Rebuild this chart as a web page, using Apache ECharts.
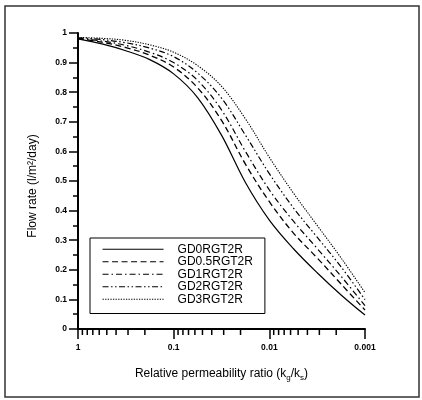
<!DOCTYPE html>
<html><head><meta charset="utf-8">
<script src="https://cdn.jsdelivr.net/npm/echarts@6/dist/echarts.min.js"></script>
<style>html,body{margin:0;padding:0;background:#fff}#c{width:422px;height:400px}</style>
</head><body><div id="c"></div>
<script>
const xValues = [1, 0.5623, 0.3162, 0.1778, 0.1, 0.05623, 0.03162, 0.01778, 0.01, 0.005623, 0.003162, 0.001778, 0.001];
const gd0   = [0.980, 0.963, 0.940, 0.910, 0.862, 0.782, 0.655, 0.495, 0.368, 0.272, 0.190, 0.115, 0.047];
const gd05  = [0.981, 0.969, 0.951, 0.925, 0.885, 0.815, 0.705, 0.557, 0.430, 0.325, 0.240, 0.152, 0.064];
const gd1   = [0.982, 0.973, 0.958, 0.935, 0.900, 0.840, 0.740, 0.600, 0.470, 0.365, 0.272, 0.178, 0.079];
const gd2   = [0.984, 0.978, 0.967, 0.949, 0.920, 0.865, 0.780, 0.655, 0.525, 0.410, 0.310, 0.210, 0.099];
const gd3   = [0.985, 0.982, 0.975, 0.960, 0.935, 0.890, 0.820, 0.710, 0.580, 0.460, 0.350, 0.240, 0.123];
const seriesNames = ['GD0RGT2R', 'GD0.5RGT2R', 'GD1RGT2R', 'GD2RGT2R', 'GD3RGT2R'];
const xTickValues = [1, 0.1, 0.01, 0.001];
const xTickLabels = ['1', '0.1', '0.01', '0.001'];
const xMinorTickValues = [0.9,0.8,0.7,0.6,0.5,0.4,0.3,0.2, 0.09,0.08,0.07,0.06,0.05,0.04,0.03,0.02, 0.009,0.008,0.007,0.006,0.005,0.004,0.003,0.002];

const FONT = '"Liberation Sans", Arial, sans-serif';
const seriesData = [gd0, gd05, gd1, gd2, gd3];
const dashes = ['solid', [6, 3.5], [6, 3, 1.5, 3], [6, 2.5, 1.5, 2.5, 1.5, 2.5], [1.3, 1.3]];
const widths = [1.2, 1.3, 1.2, 1.2, 1.1];

const chart = echarts.init(document.getElementById('c'), null, {renderer: 'canvas'});
const lineSeries = seriesNames.map((n, i) => ({
  name: n, type: 'line', symbol: 'none', smooth: 0.35,
  data: xValues.map((x, j) => [x, seriesData[i][j]]),
  lineStyle: {color: '#000', width: widths[i], type: dashes[i]},
  itemStyle: {color: '#000'}
}));
lineSeries.push({
  type: 'custom', silent: true, clip: false,
  data: xMinorTickValues.map(v => [v, 0]),
  renderItem: (params, api) => {
    const p = api.coord([api.value(0), 0]);
    return {type: 'line', shape: {x1: p[0], y1: p[1], x2: p[0], y2: p[1] + 6},
            style: {stroke: '#000', lineWidth: 1.5}};
  }
});

chart.setOption({
  animation: false,
  backgroundColor: '#fff',
  graphic: [{type: 'rect', shape: {x: 5, y: 6, width: 414, height: 391},
             style: {fill: 'none', stroke: '#333', lineWidth: 1.5}}],
  grid: {left: 78, right: 57, top: 33, bottom: 71},
  legend: {
    data: seriesNames, orient: 'vertical', left: 90, top: 238,
    itemWidth: 61, itemHeight: 8, itemGap: 0,
    itemStyle: {opacity: 0},
    lineStyle: {width: 1.1},
    padding: [5, 12, 8, 12], borderColor: '#000', borderWidth: 1,
    textStyle: {fontSize: 12, fontFamily: FONT, color: '#000', lineHeight: 12.5, padding: [0, 0, 0, 9]}
  },
  xAxis: {
    type: 'log', logBase: 10, min: 0.001, max: 1, inverse: true,
    name: '{a|Relative permeability ratio (k}{s|g}{a|/k}{s|s}{a|)}',
    nameLocation: 'middle', nameGap: 37,
    nameTextStyle: {rich: {
      a: {fontSize: 12, fontFamily: FONT, color: '#000', lineHeight: 16},
      s: {fontSize: 8, fontFamily: FONT, color: '#000', lineHeight: 16, padding: [7, 0, 0, 0]}
    }},
    axisLine: {lineStyle: {color: '#000', width: 2}},
    axisTick: {show: true, length: 10, lineStyle: {color: '#000', width: 1.5}},
    axisLabel: {margin: 14, fontSize: 8.5, fontWeight: 'bold', fontFamily: FONT, color: '#000',
      formatter: v => {
        let best = 0, bd = Infinity;
        xTickValues.forEach((t, i) => { const d = Math.abs(Math.log10(t) - Math.log10(v)); if (d < bd) { bd = d; best = i; } });
        return xTickLabels[best];
      }},
    splitLine: {show: false}, minorTick: {show: false}
  },
  yAxis: {
    type: 'value', min: 0, max: 1, interval: 0.1,
    name: 'Flow rate (l/m²/day)', nameLocation: 'middle', nameGap: 39,
    nameTextStyle: {fontSize: 12, fontFamily: FONT, color: '#000', padding: [0, 0, 0, -10]},
    axisLine: {show: true, lineStyle: {color: '#000', width: 2}},
    axisTick: {show: true, length: 9, lineStyle: {color: '#000', width: 1.5}},
    minorTick: {show: true, splitNumber: 2, length: 5, lineStyle: {color: '#000', width: 1.5}},
    axisLabel: {margin: 11, fontSize: 8.5, fontWeight: 'bold', fontFamily: FONT, color: '#000'},
    splitLine: {show: false}
  },
  series: lineSeries
});
</script></body></html>
